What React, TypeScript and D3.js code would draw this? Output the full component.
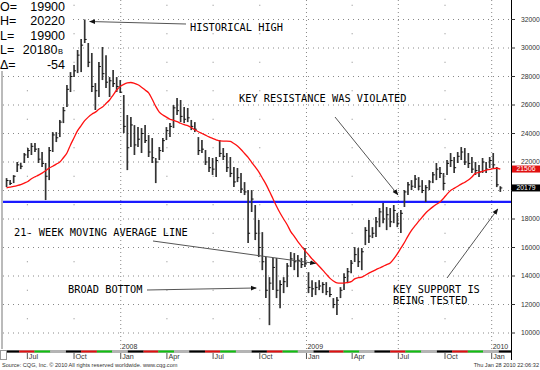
import React from 'react';
import * as d3 from 'd3';

// weekly bars, first week starts here
const firstWeek = new Date(2007, 4, 21);

const highs = [
  20870, 20730, 21080, 22000, 21950, 22630, 22980, 23330, 23330, 22980,
  22700, 21930, 23050, 24100, 24100, 24950, 25860, 27400, 28310, 28800,
  29860, 30630, 32000, 30350, 29650, 27540, 29020, 30070, 29500, 27960,
  28450, 27960, 27750, 26700, 25300, 25160, 24590, 24450, 24380, 24590,
  23890, 23680, 22280, 23050, 23680, 24450, 24730, 26000, 26490, 26350,
  25860, 25790, 24950, 24800, 23750, 23540, 22840, 22350, 22280, 22350,
  23540, 22980, 22630, 22350, 21650, 21580, 21230, 20590, 20030, 20030,
  18980, 17930, 17080, 15330, 13920, 15260, 15260, 13710, 13920, 14910,
  15680, 15610, 15470, 15260, 15960, 14270, 13710, 13570, 13710, 13570,
  13570, 13220, 12450, 12520, 13220, 14200, 14560, 15120, 16030, 15960,
  15960, 17430, 17930, 17430, 18140, 18770, 19120, 18840, 18770, 18980,
  18420, 18630, 20030, 20590, 20730, 21090, 20940, 20730, 20380, 20730,
  21300, 21930, 21650, 21230, 22140, 22630, 22350, 22700, 23050, 22980,
  22630, 22350, 22000, 21790, 22280, 22000, 22350, 22630, 21650, 20300,
];
const lows = [
  20240, 20380, 20520, 21300, 21500, 21930, 22280, 22490, 22700, 21930,
  21650, 19330, 20730, 22700, 23400, 23750, 24730, 25860, 26910, 27960,
  28240, 28310, 30350, 28660, 26910, 25650, 26560, 27750, 27190, 26560,
  27260, 26910, 26840, 24030, 21430, 23050, 22490, 23050, 22630, 23330,
  22350, 21930, 20520, 22140, 22700, 23540, 23750, 24380, 25300, 24800,
  24730, 24800, 24240, 24100, 22490, 22630, 21790, 21300, 21090, 20940,
  22350, 22140, 21300, 20940, 20240, 20590, 19820, 19680, 16310, 18490,
  16520, 15330, 14410, 12450, 10550, 13010, 12450, 11740, 12800, 13220,
  14630, 14410, 13920, 14560, 14630, 12800, 12520, 12660, 13010, 12800,
  12660, 12520, 11740, 11260, 12450, 13010, 13500, 14200, 14980, 14630,
  14410, 16170, 16310, 16660, 16730, 17430, 17710, 17220, 17430, 17710,
  17430, 17010, 18840, 19680, 20030, 20170, 20030, 19820, 19190, 20030,
  20520, 20730, 20870, 20030, 21090, 21650, 21230, 21930, 22140, 21790,
  21580, 21230, 21090, 20940, 21230, 21230, 21580, 21580, 20240, 19900,
];
const closes = [
  20700, 20500, 21000, 21800, 21700, 22500, 22800, 23100, 22900, 22200,
  21900, 21000, 22800, 23900, 23700, 24800, 25600, 27100, 28000, 28400,
  29500, 30200, 30600, 29000, 27300, 27000, 28700, 28200, 27600, 27700,
  27500, 27300, 26900, 24500, 23000, 24600, 23200, 23600, 24000, 23500,
  22700, 22300, 22000, 22800, 23500, 24200, 24500, 25800, 25600, 25200,
  25000, 25100, 24500, 24300, 22800, 22900, 22000, 21600, 21500, 22100,
  22600, 22400, 21600, 21200, 20600, 20900, 20100, 19900, 17000, 19400,
  17000, 16000, 15000, 13000, 13500, 14600, 13000, 13400, 13600, 14700,
  15200, 15000, 15100, 14800, 14900, 13200, 13100, 13200, 13300, 13400,
  12900, 12700, 12000, 12300, 13000, 13900, 14300, 14900, 15500, 15000,
  15700, 17200, 16800, 17000, 17800, 18500, 18000, 18300, 17800, 18600,
  17700, 18400, 19900, 20400, 20300, 20800, 20300, 20000, 20200, 20600,
  21100, 21500, 21200, 20500, 21900, 22100, 21600, 22400, 22700, 22000,
  21900, 21500, 21400, 21300, 22000, 21500, 22100, 21800, 20400, 20179,
];
const ma21 = [
  20190, 20240, 20290, 20350, 20420, 20520, 20630, 20820, 20960, 21080,
  21220, 21380, 21570, 21700, 21850, 22000, 22300, 22630, 23200, 23700,
  24200, 24550, 24900, 25150, 25350, 25500, 25700, 25860, 26100, 26350,
  26700, 27050, 27300, 27450, 27550, 27580, 27520, 27420, 27250, 27050,
  26850, 26400, 25900, 25500, 25300, 25150, 25000, 24920, 24830, 24720,
  24620, 24550, 24420, 24260, 24120, 24000, 23880, 23760, 23660, 23560,
  23480, 23470, 23470, 23440, 23300, 23120, 22880, 22600, 22320, 21980,
  21650, 21300, 20880, 20450, 19950, 19420, 18900, 18420, 18000, 17600,
  17120, 16780, 16420, 16100, 15780, 15500, 15200, 14950, 14680, 14410,
  14130, 13850, 13650, 13520, 13500, 13500, 13540, 13600, 13800, 13880,
  13920, 14050, 14200, 14320, 14450, 14560, 14680, 14800, 14910, 15200,
  15550, 15950, 16350, 16800, 17200, 17530, 17830, 18130, 18420, 18650,
  18850, 19030, 19190, 19450, 19750, 20000, 20150, 20300, 20450, 20580,
  20730, 20950, 21200, 21280, 21350, 21430, 21480, 21540, 21560, 21506,
];

const supportLevel = 19200;
const lastMa = 21506;
const lastPrice = 20179;

const priceTicks = [10000, 12000, 14000, 16000, 18000, 20000, 22000, 24000, 26000, 28000, 30000, 32000];
const thousandLevels = d3.range(10000, 33001, 1000);

const quarterDates = ['2007-07-01', '2007-10-01', '2008-01-01', '2008-04-01', '2008-07-01', '2008-10-01',
  '2009-01-01', '2009-04-01', '2009-07-01', '2009-10-01', '2010-01-01'];
const quarterNames = ['Jul', 'Oct', 'Jan', 'Apr', 'Jul', 'Oct', 'Jan', 'Apr', 'Jul', 'Oct', 'Jan'];
const denseGridDates = ['2008-01-01', '2009-01-01', '2009-07-01', '2010-01-01'];
const yearDates = ['2008-01-01', '2009-01-01', '2010-01-01'];
const yearNames = ['2008', '2009', '2010'];
const stripColors = ['#000000', '#e01010', '#10c010', '#b4b4b4'];

const headerKeys = ['O=', 'H=', 'L=', 'L=', 'Δ='];
const headerValues = ['19900', '20220', '19900', '20180', '-54'];

const parse = d3.timeParse('%Y-%m-%d');

export default function App() {
  document.body.style.margin = '0';
  const W = 540, H = 370;
  const left = 3, right = 511, top = 0, bottom = 349;

  const dates = highs.map((_, i) => d3.timeWeek.offset(firstWeek, i));

  const x = d3.scaleTime()
    .domain([new Date(2007, 4, 14), new Date(2010, 1, 10)])
    .range([left, right + 1]);
  const y = d3.scaleLinear().domain([10000, 32000]).range([333, 19.5]);

  const maLine = d3.line<number>()
    .x((_, i) => x(dates[i]))
    .y(d => y(d))
    .curve(d3.curveMonotoneX);

  // month strip segments, mid-month to mid-month
  const stripStarts = d3.timeMonth.range(new Date(2007, 3, 1), new Date(2010, 2, 1))
    .map(m => new Date(m.getFullYear(), m.getMonth(), 15));

  const mono = '"DejaVu Sans Mono", monospace';
  const sans = '"Liberation Sans", Arial, sans-serif';

  // price box labels sit on top of the axis, hide ticks they cover
  const boxY = [y(lastMa), y(lastPrice)];
  const visibleTicks = priceTicks.filter(v => boxY.every(b => Math.abs(y(v) - b) > 6));

  const annotations = [
    { lines: ['HISTORICAL HIGH'], tx: 190, ty: 31, from: [186, 24], to: [x(dates[22]) + 5, y(32000) + 2] },
    { lines: ['KEY RESISTANCE WAS VIOLATED'], tx: 239, ty: 102, from: [335, 117], to: [x(dates[111]) - 3, y(supportLevel + 500)] },
    { lines: ['21- WEEK MOVING AVERAGE LINE'], tx: 14, ty: 236, from: [153, 241], to: [x(dates[87]), y(ma21[87]) + 1] },
    { lines: ['BROAD BOTTOM'], tx: 68, ty: 293, from: [147, 290], to: [x(dates[70]) + 1, y(13160)] },
    { lines: ['KEY SUPPORT IS', 'BEING TESTED'], tx: 393, ty: 293, from: [447, 278], to: [x(dates[138]) + 1, y(18700)] },
  ];

  return (
    <svg width={W} height={H} style={{ position: 'absolute', left: 0, top: 0, background: '#fff' }}>
      <defs>
        <marker id="arr" viewBox="0 0 10 10" refX="9" refY="5" markerWidth="6" markerHeight="6" orient="auto">
          <path d="M0,1 L10,5 L0,9 z" fill="#111" />
        </marker>
      </defs>
      <rect x={0} y={0} width={W} height={H} fill="#fff" />

      {/* horizontal grid */}
      {priceTicks.map(v => (
        <line key={'h' + v} x1={left} x2={right} y1={y(v)} y2={y(v)} stroke="#888" strokeDasharray="1,4" />
      ))}
      {/* vertical grid */}
      {denseGridDates.map(d => (
        <line key={'v' + d} x1={x(parse(d)!)} x2={x(parse(d)!)} y1={top} y2={bottom} stroke="#888" strokeDasharray="1,3" />
      ))}
      {quarterDates.filter(d => !denseGridDates.includes(d)).map(d =>
        thousandLevels.filter(v => v % 2000 === 1000).map(v => (
          <rect key={d + v} x={x(parse(d)!) - 0.5} y={y(v) - 0.5} width={1} height={1} fill="#888" />
        ))
      )}

      {/* support line */}
      <line x1={left} x2={right} y1={y(supportLevel)} y2={y(supportLevel)} stroke="#1a1aff" strokeWidth={2.2} />

      {/* weekly HLC bars */}
      {highs.map((h, i) => {
        const bx = x(dates[i]);
        return (
          <g key={'b' + i}>
            <line x1={bx} x2={bx} y1={y(h)} y2={y(lows[i])} stroke="#333" strokeWidth={1.7} />
            <line x1={bx} x2={bx + 2} y1={y(closes[i])} y2={y(closes[i])} stroke="#111" strokeWidth={1} />
          </g>
        );
      })}

      {/* moving average */}
      <path d={maLine(ma21) || ''} fill="none" stroke="#ff1010" strokeWidth={1.3} />

      {/* annotations */}
      {annotations.map((a, k) => (
        <g key={'a' + k}>
          {a.lines.map((t, j) => (
            <text key={j} x={a.tx} y={a.ty + j * 11} fontFamily={mono} fontSize={10.3} fill="#000">{t}</text>
          ))}
          <line x1={a.from[0]} y1={a.from[1]} x2={a.to[0]} y2={a.to[1]} stroke="#555" strokeWidth={1} markerEnd="url(#arr)" />
        </g>
      ))}

      {/* frame */}
      <line x1={left - 1} x2={left - 1} y1={top} y2={bottom} stroke="#777" />
      <line x1={right + 0.5} x2={right + 0.5} y1={top} y2={360} stroke="#000" />

      {/* right price axis */}
      {priceTicks.map(v => (
        <line key={'pt' + v} x1={right} x2={right + 4} y1={y(v)} y2={y(v)} stroke="#333" />
      ))}
      {visibleTicks.map(v => (
        <text key={'p' + v} x={521} y={y(v) + 2.4} fontFamily={sans} fontSize={6.8} fill="#333">{v}</text>
      ))}
      <rect x={right + 1} y={y(lastMa) - 3.5} width={W - right} height={7} fill="#e01010" />
      <text x={526} y={y(lastMa) + 2.4} fontFamily={sans} fontSize={6.8} fill="#fff" textAnchor="middle">{lastMa}</text>
      <rect x={right + 1} y={y(lastPrice) - 3.5} width={W - right} height={7} fill="#000" />
      <text x={526} y={y(lastPrice) + 2.4} fontFamily={sans} fontSize={6.8} fill="#fff" textAnchor="middle">{lastPrice}</text>

      {/* time strip */}
      <rect x={left} y={350} width={right - left} height={3} fill="#b4b4b4" />
      {stripStarts.map((s, k) => {
        const x0 = Math.max(left, x(s));
        const x1 = Math.min(right, x(new Date(s.getFullYear(), s.getMonth() + 1, 15)));
        if (x1 <= x0) return null;
        return <rect key={'s' + k} x={x0} y={350.5} width={x1 - x0} height={2} fill={stripColors[(k + 3) % 4]} />;
      })}
      <rect x={0.5} y={350.5} width={6} height={9} fill="#fff" stroke="#999" />

      {quarterDates.map((d, k) => {
        const tx = x(parse(d)!);
        return (
          <g key={'q' + k}>
            <line x1={tx} x2={tx} y1={353} y2={359} stroke="#555" />
            <text x={tx + 1.5} y={359} fontFamily={sans} fontSize={7.2} fill="#333">{quarterNames[k]}</text>
          </g>
        );
      })}
      {yearDates.map((d, k) => (
        <text key={'y' + k} x={x(parse(d)!) + 1} y={349} fontFamily={sans} fontSize={7} fill="#333">{yearNames[k]}</text>
      ))}

      {/* header box */}
      <rect x={0} y={0} width={71} height={71} fill="#fff" />
      {headerKeys.map((k, j) => (
        <g key={'hd' + j}>
          <text x={0} y={11 + j * 14.4} fontFamily={sans} fontSize={12.5} fill="#000">{k}</text>
          <text x={j === 3 ? 57.5 : 65} y={11 + j * 14.4} fontFamily={sans} fontSize={12.5} fill="#000" textAnchor="end">{headerValues[j]}</text>
          {j === 3 && <text x={58} y={11 + j * 14.4} fontFamily={sans} fontSize={7.5} fill="#000">B</text>}
        </g>
      ))}

      {/* footer */}
      <text x={2} y={367} fontFamily={sans} fontSize={5.6} fill="#333">Source: CQG, Inc. © 2010 All rights reserved worldwide. www.cqg.com</text>
      <text x={539} y={367} fontFamily={sans} fontSize={5.6} fill="#333" textAnchor="end">Thu Jan 28 2010 22:06:32</text>
    </svg>
  );
}
